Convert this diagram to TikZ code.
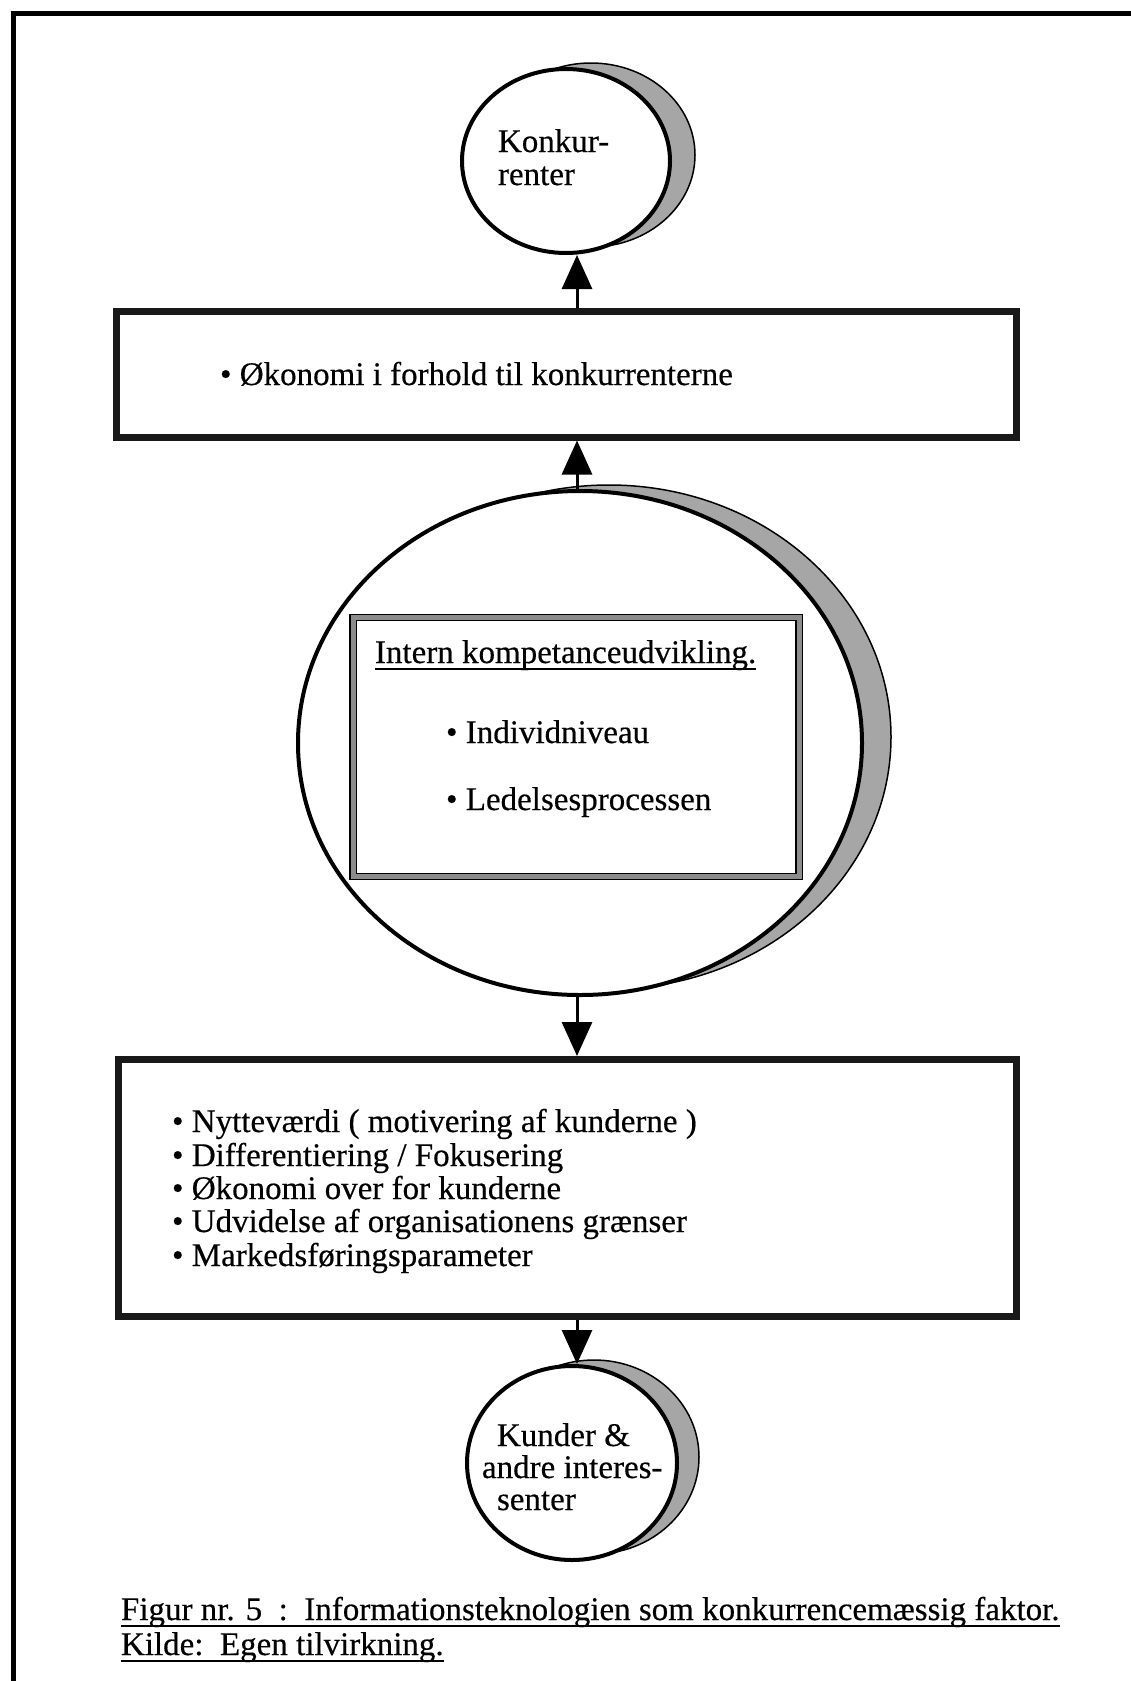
\documentclass[tikz,border=0pt]{standalone}
\usepackage{fontspec}
\setmainfont{Liberation Serif}[FakeBold=0.4]
\usetikzlibrary{arrows.meta,shapes.geometric}
\newcommand\ulin[1]{\setbox0=\hbox{#1}\rlap{\rule[-7pt]{\wd0}{2.5pt}}\box0}
\begin{document}
\begin{tikzpicture}[x=1pt,y=-1pt,
  every node/.style={inner sep=0pt},
  txt/.style={font=\fontsize{33}{34}\selectfont, anchor=base west, outer sep=0pt},
  ring/.style={ellipse, draw=black, line width=4pt, fill=white},
  crescent/.style={fill=black!35, draw=black, line width=1.5pt},
  framebox/.style={rectangle, draw=black!90, line width=7pt, fill=white},
  innerbox/.style={rectangle, draw=black, line width=1.2pt, double=black!45, double distance=5pt},
  link/.style={line width=3pt, -{Triangle[length=34pt,width=30pt]}},
]
\useasboundingbox (0,0) rectangle (1131,1681);
\fill[white] (0,0) rectangle (1131,1681);
\coordinate (axis) at (577,0);
% page frame
\draw[line width=5pt] (1131,13) -- (13,13) -- (13,1681);

% shadows
\fill[crescent] (591,155) ellipse [x radius=104, y radius=92];
\fill[crescent] (609,737) ellipse [x radius=282, y radius=252];
\fill[crescent] (594,1457) ellipse [x radius=105, y radius=97];

% circles
\node[ring, minimum width=208pt, minimum height=184pt] (konk) at (566,161) {};
\node[txt] (k1) at (498,152) {Konkur-};
\node[txt] (k2) at (498,185) {renter};

\node[ring, minimum width=564pt, minimum height=504pt] (intern) at (580,743) {};
\node[innerbox, minimum width=446pt, minimum height=259pt] (kompbox) at (576,747) {};
\node[txt] (i1) at (375,663) {\ulin{Intern kompetanceudvikling.}};
\node[txt] (i2) at (446,743) {• Individniveau};
\node[txt] (i3) at (446,810) {• Ledelsesprocessen};

\node[ring, minimum width=210pt, minimum height=194pt] (kunder) at (572,1463) {};
\node[txt] (c1) at (497,1446) {Kunder \&};
\node[txt] (c2) at (482,1478) {andre interes-};
\node[txt] (c3) at (497,1510) {senter};

% boxes
\node[framebox, minimum width=900pt, minimum height=126pt] (okon) at (566,374) {};
\node[txt] (o1) at (220,385) {• Økonomi i forhold til konkurrenterne};

\node[framebox, minimum width=898pt, minimum height=257pt] (kunbox) at (567,1188) {};
\node[txt] (b1) at (172,1132) {• Nytteværdi ( motivering af kunderne )};
\node[txt] (b2) at (172,1166) {• Differentiering / Fokusering};
\node[txt] (b3) at (172,1199) {• Økonomi over for kunderne};
\node[txt] (b4) at (172,1232) {• Udvidelse af organisationens grænser};
\node[txt] (b5) at (172,1266) {• Markedsføringsparameter};

% arrows
\draw[link] (intern.north -| axis) -- (okon.south -| axis);
\draw[link] (okon.north -| axis) -- (konk.south -| axis);
\draw[link] (intern.south -| axis) -- (kunbox.north -| axis);
\draw[link] (kunbox.south -| axis) -- (kunder.north -| axis);

% caption
\node[txt] (cap1) at (121,1620) {\ulin{Figur nr. 5\ \ :\ \ Informationsteknologien som konkurrencemæssig faktor.}};
\node[txt] (cap2) at (121,1655) {\ulin{Kilde:\ \ Egen tilvirkning.}};
\end{tikzpicture}
\end{document}
